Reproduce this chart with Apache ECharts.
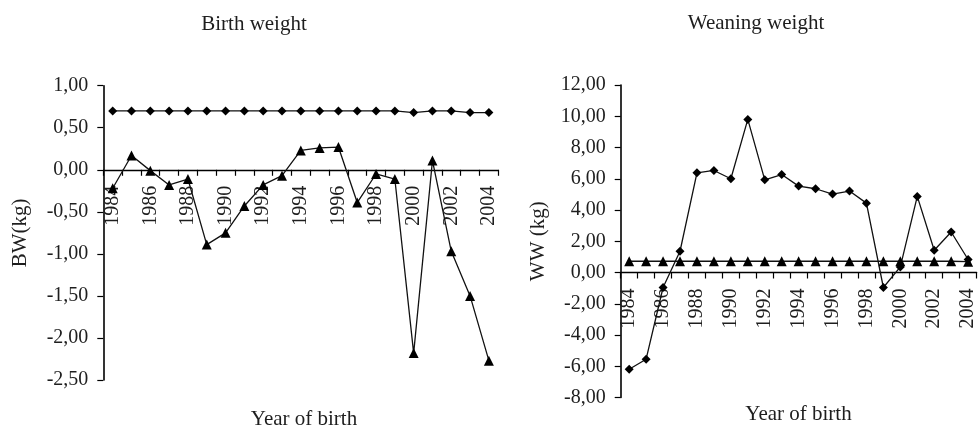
<!DOCTYPE html>
<html>
<head>
<meta charset="utf-8">
<script src="https://cdn.jsdelivr.net/npm/echarts@6/dist/echarts.min.js"></script>
<style>
  html, body { margin: 0; padding: 0; background: #fff; }
  #chart { width: 978px; height: 428px; }
</style>
</head>
<body>
<div id="chart"></div>
<script>
// ---- Data ----
const years = ['1984','1985','1986','1987','1988','1989','1990','1991','1992','1993','1994',
               '1995','1996','1997','1998','1999','2000','2001','2002','2003','2004'];

// Birth weight (BW, kg)
const bwDiamond = [0.70,0.70,0.70,0.70,0.70,0.70,0.70,0.70,0.70,0.70,0.70,
                   0.70,0.70,0.70,0.70,0.70,0.68,0.70,0.70,0.68,0.68];
const bwTriangle = [-0.22,0.17,-0.01,-0.18,-0.11,-0.89,-0.75,-0.43,-0.18,-0.07,0.23,
                    0.26,0.27,-0.39,-0.05,-0.11,-2.18,0.11,-0.97,-1.50,-2.27];

// Weaning weight (WW, kg)
const wwDiamond = [-6.19,-5.55,-0.96,1.36,6.38,6.53,6.00,9.80,5.93,6.27,5.53,
                   5.36,5.02,5.21,4.44,-0.96,0.36,4.87,1.42,2.59,0.83];
const wwTriangle = [0.72,0.72,0.72,0.72,0.72,0.72,0.72,0.72,0.72,0.72,0.72,
                    0.72,0.72,0.72,0.72,0.72,0.72,0.72,0.72,0.72,0.69];

const titles = ['Birth weight', 'Weaning weight'];
const xNames = ['Year of birth', 'Year of birth'];
const yNames = ['BW(kg)', 'WW (kg)'];

// y-axis ranges
const bwRange = { min: -2.5, max: 1, step: 0.5 };
const wwRange = { min: -8, max: 12, step: 2 };

// ---- Styling ----
const FONT = '"Liberation Serif", "Times New Roman", serif';
const TXT = '#1e1e1e';
const fmt = v => v.toFixed(2).replace('.', ',');

const grids = [
  { left: 103.3, top: 85.7, width: 395, height: 294.3 },
  { left: 620.7, top: 85, width: 360.6, height: 312.5 }
];

// put the category axis (line, ticks, labels) on the value 0 line
function zeroOffset(grid, r) {
  const zeroFromTop = grid.height * r.max / (r.max - r.min);
  return -(grid.height - zeroFromTop);
}

function xAxisFor(gi, r) {
  return {
    type: 'category', gridIndex: gi, data: years, boundaryGap: true,
    position: 'bottom', offset: zeroOffset(grids[gi], r),
    axisLine: { show: true, onZero: false, lineStyle: { color: '#000', width: 1.4 } },
    axisTick: { show: true, interval: 0, length: 6, inside: false, lineStyle: { color: '#000', width: 1.2 } },
    axisLabel: { interval: 1, rotate: 90, margin: 16, fontFamily: FONT, fontSize: 20, color: TXT },
    splitLine: { show: false }
  };
}
function yAxisFor(gi, r, name) {
  return {
    type: 'value', gridIndex: gi, min: r.min, max: r.max, interval: r.step,
    name: name, nameLocation: 'middle', nameGap: 72,
    nameTextStyle: { fontFamily: FONT, fontSize: 21, color: TXT },
    axisLine: { show: true, lineStyle: { color: '#000', width: 1.6 } },
    axisTick: { show: true, length: 6, lineStyle: { color: '#000', width: 1.2 } },
    axisLabel: { margin: 15, fontFamily: FONT, fontSize: 20, color: TXT, formatter: fmt },
    splitLine: { show: false }
  };
}
function lineSeries(xi, data, symbol, size) {
  return {
    type: 'line', xAxisIndex: xi, yAxisIndex: xi, data: data,
    symbol: symbol, symbolSize: size, showSymbol: true,
    lineStyle: { color: '#111', width: 1.3 },
    itemStyle: { color: '#000' },
    animation: false
  };
}

const chart = echarts.init(document.getElementById('chart'), null, { renderer: 'canvas' });
chart.setOption({
  backgroundColor: '#fff',
  animation: false,
  grid: grids,
  xAxis: [xAxisFor(0, bwRange), xAxisFor(1, wwRange)],
  yAxis: [yAxisFor(0, bwRange, yNames[0]), yAxisFor(1, wwRange, yNames[1])],
  series: [
    lineSeries(0, bwDiamond, 'diamond', 9),
    lineSeries(0, bwTriangle, 'triangle', 10),
    lineSeries(1, wwDiamond, 'diamond', 9),
    lineSeries(1, wwTriangle, 'triangle', 10)
  ],
  graphic: [
    { type: 'text', x: 254, y: 24, style: { text: titles[0], align: 'center', verticalAlign: 'middle', fontFamily: FONT, fontSize: 21, fill: TXT } },
    { type: 'text', x: 756, y: 23.5, style: { text: titles[1], align: 'center', verticalAlign: 'middle', fontFamily: FONT, fontSize: 21, fill: TXT } },
    { type: 'text', x: 304, y: 419, style: { text: xNames[0], align: 'center', verticalAlign: 'middle', fontFamily: FONT, fontSize: 21, fill: TXT } },
    { type: 'text', x: 798.5, y: 414, style: { text: xNames[1], align: 'center', verticalAlign: 'middle', fontFamily: FONT, fontSize: 21, fill: TXT } }
  ]
});
</script>
</body>
</html>
